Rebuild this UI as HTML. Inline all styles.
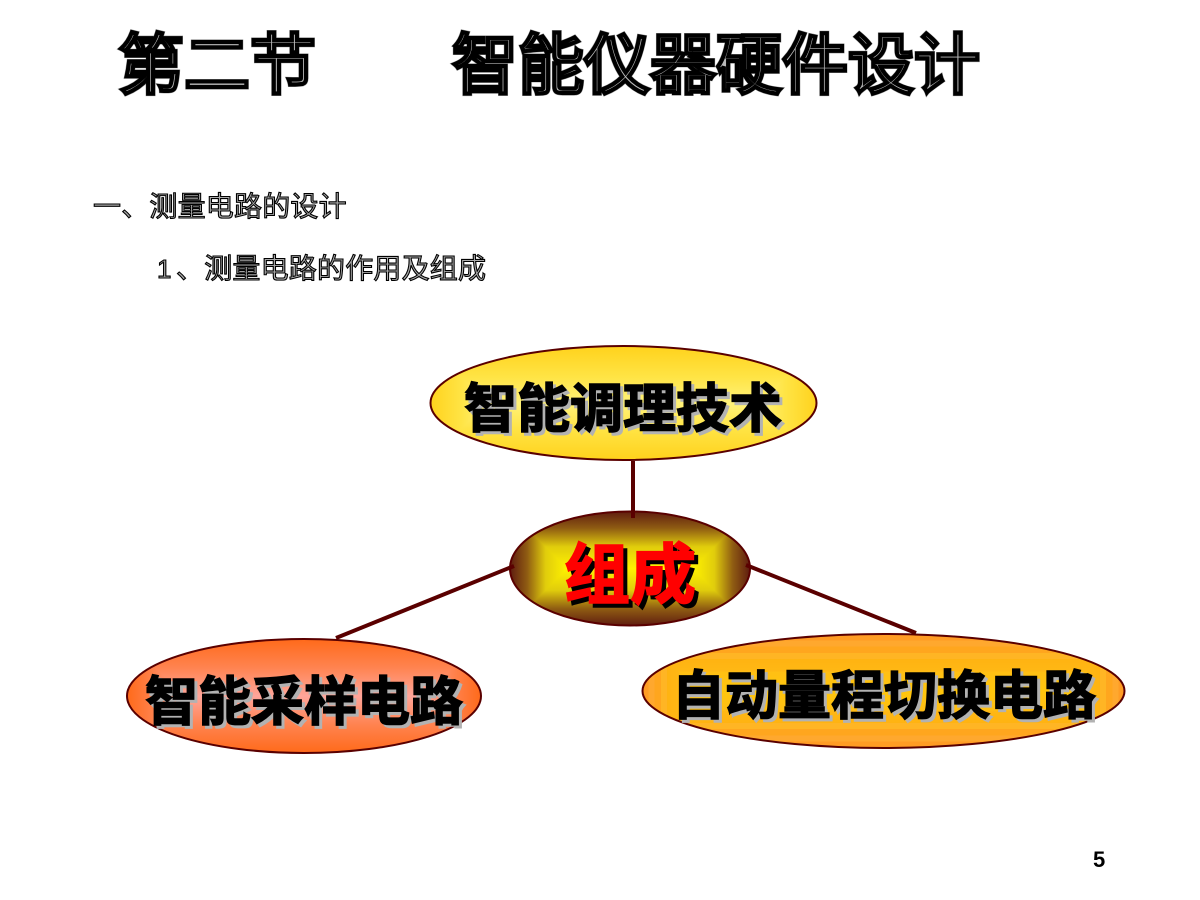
<!DOCTYPE html>
<html><head><meta charset="utf-8"><style>
html,body{margin:0;padding:0;background:#fff;width:1200px;height:900px;overflow:hidden}
svg{display:block}
text{font-family:"Liberation Sans","Noto Sans CJK SC",sans-serif}
.t0{font-size:66px;font-weight:400;stroke:#999;stroke-width:5px;fill:#999}
.t1{font-size:66px;font-weight:400;stroke:#000;stroke-width:4.2px;fill:#bbb;stroke-linejoin:miter}
.s1{font-size:28px;stroke:#000;stroke-width:1.1px;fill:#aaa;letter-spacing:.2px}
.l{font-size:53px;font-weight:700;stroke-width:1.5px}
</style></head><body>
<svg width="1200" height="900" viewBox="0 0 1200 900" xmlns="http://www.w3.org/2000/svg">
<defs>
<linearGradient id="ah" gradientUnits="userSpaceOnUse" x1="430" y1="0" x2="623.5" y2="0" spreadMethod="reflect"><stop offset="0" stop-color="#ffd21c"/><stop offset=".163" stop-color="#ffe445"/><stop offset=".295" stop-color="#fff27a"/></linearGradient>
<linearGradient id="av" gradientUnits="userSpaceOnUse" x1="0" y1="346" x2="0" y2="403" spreadMethod="reflect"><stop offset="0" stop-color="#ffd21c"/><stop offset=".55" stop-color="#ffe445"/><stop offset="1" stop-color="#fff27a"/></linearGradient>
<linearGradient id="bh" gradientUnits="userSpaceOnUse" x1="510" y1="0" x2="630" y2="0" spreadMethod="reflect"><stop offset="0" stop-color="#5e1c10"/><stop offset=".1425" stop-color="#8f5c12"/><stop offset=".295" stop-color="#e0cc0c"/><stop offset=".475" stop-color="#fff200"/></linearGradient>
<linearGradient id="bv" gradientUnits="userSpaceOnUse" x1="0" y1="511" x2="0" y2="568.5" spreadMethod="reflect"><stop offset="0" stop-color="#5e1c10"/><stop offset=".3" stop-color="#8f5c12"/><stop offset=".62" stop-color="#e0cc0c"/><stop offset="1" stop-color="#fff200"/></linearGradient>
<linearGradient id="ch" gradientUnits="userSpaceOnUse" x1="127" y1="0" x2="304" y2="0" spreadMethod="reflect"><stop offset="0" stop-color="#ff6a1a"/><stop offset=".161" stop-color="#ff8350"/><stop offset=".322" stop-color="#ffa59a"/></linearGradient>
<linearGradient id="cv" gradientUnits="userSpaceOnUse" x1="0" y1="639" x2="0" y2="696" spreadMethod="reflect"><stop offset="0" stop-color="#ff6a1a"/><stop offset=".5" stop-color="#ff8350"/><stop offset="1" stop-color="#ffa59a"/></linearGradient>
<linearGradient id="dv" gradientUnits="userSpaceOnUse" x1="0" y1="634" x2="0" y2="691" spreadMethod="reflect">
<stop offset="0" stop-color="#ff9c24"/><stop offset=".11" stop-color="#ff9c24"/><stop offset=".11" stop-color="#ffa82e"/><stop offset=".22" stop-color="#ffa82e"/><stop offset=".22" stop-color="#ffa61e"/><stop offset=".33" stop-color="#ffa61e"/><stop offset=".33" stop-color="#ffb524"/><stop offset=".44" stop-color="#ffb524"/><stop offset=".44" stop-color="#ffb312"/><stop offset=".66" stop-color="#ffb814"/><stop offset=".66" stop-color="#ffbf14"/><stop offset="1" stop-color="#ffc60c"/></linearGradient>
<linearGradient id="dh" gradientUnits="userSpaceOnUse" x1="642" y1="0" x2="883.5" y2="0" spreadMethod="reflect">
<stop offset="0" stop-color="#ff9c24"/><stop offset=".026" stop-color="#ff9c24"/><stop offset=".026" stop-color="#ffa82e"/><stop offset=".052" stop-color="#ffa82e"/><stop offset=".052" stop-color="#ffa61e"/><stop offset=".078" stop-color="#ffa61e"/><stop offset=".078" stop-color="#ffb524"/><stop offset=".104" stop-color="#ffb524"/><stop offset=".104" stop-color="#ffb312"/><stop offset=".156" stop-color="#ffb814"/><stop offset=".156" stop-color="#ffbf14"/><stop offset=".236" stop-color="#ffc60c"/></linearGradient>
<clipPath id="ca"><ellipse cx="623.5" cy="403" rx="193" ry="57"/></clipPath>
<clipPath id="cb"><ellipse cx="630" cy="568.5" rx="120" ry="57"/></clipPath>
<clipPath id="cc"><ellipse cx="304" cy="696" rx="177" ry="57"/></clipPath>
<clipPath id="cd"><ellipse cx="883.5" cy="691" rx="241" ry="57"/></clipPath>
</defs>

<text class="t0" x="118" y="88">第二节</text>
<text class="t1" x="118" y="88">第二节</text>
<text class="t0" x="452" y="88" textLength="528">智能仪器硬件设计</text>
<text class="t1" x="452" y="88" textLength="528">智能仪器硬件设计</text>

<text class="s1" x="93" y="216">一、测量电路的设计</text>
<text class="s1" x="157" y="278" style="font-size:26px">1</text>
<text class="s1" x="176" y="278">、测量电路的作用及组成</text>

<g clip-path="url(#ca)">
<rect x="430" y="346" width="387" height="114" fill="url(#av)"/>
<path d="M430 346L487 403L760 403L817 346V460L760 403L487 403L430 460Z" fill="url(#ah)"/>
</g>
<ellipse cx="623.5" cy="403" rx="193" ry="57" fill="none" stroke="#5a0000" stroke-width="2"/>

<g clip-path="url(#cb)">
<rect x="510" y="511" width="240" height="115" fill="url(#bv)"/>
<path d="M510 511L567 568.5L693 568.5L750 511V626L693 568.5L567 568.5L510 626Z" fill="url(#bh)"/>
</g>
<ellipse cx="630" cy="568.5" rx="120" ry="57" fill="none" stroke="#5a0000" stroke-width="2"/>

<g clip-path="url(#cc)">
<rect x="127" y="639" width="354" height="114" fill="url(#cv)"/>
<path d="M127 639L184 696L424 696L481 639V753L424 696L184 696L127 753Z" fill="url(#ch)"/>
</g>
<ellipse cx="304" cy="696" rx="177" ry="57" fill="none" stroke="#5a0000" stroke-width="2"/>

<g clip-path="url(#cd)">
<rect x="642" y="634" width="483" height="114" fill="url(#dv)"/>
<path d="M642 634L699 691L1068 691L1125 634V748L1068 691L699 691L642 748Z" fill="url(#dh)"/>
</g>
<ellipse cx="883.5" cy="691" rx="241" ry="57" fill="none" stroke="#5a0000" stroke-width="2"/>

<g stroke="#5a0000" stroke-width="4" fill="none">
<line x1="633" y1="461" x2="633" y2="518"/>
<line x1="514" y1="566" x2="336" y2="638"/>
<line x1="746" y1="565" x2="916" y2="633"/>
</g>

<text class="l" x="467" y="430" fill="#b2b2b2" stroke="#b2b2b2">智能调理技术</text>
<text class="l" x="464" y="427" fill="#000" stroke="#000">智能调理技术</text>
<text class="l" x="148" y="723" fill="#b2b2b2" stroke="#b2b2b2">智能采样电路</text>
<text class="l" x="145" y="720" fill="#000" stroke="#000">智能采样电路</text>
<text class="l" x="675" y="717" fill="#b2b2b2" stroke="#b2b2b2">自动量程切换电路</text>
<text class="l" x="672" y="714" fill="#000" stroke="#000">自动量程切换电路</text>
<text x="568" y="602" fill="#000" stroke="#000" stroke-width="1.6" style="font-size:66px;font-weight:700">组成</text>
<text x="564" y="598" fill="#f00" stroke="#f00" stroke-width="1.6" style="font-size:66px;font-weight:700">组成</text>

<text x="1093" y="867" fill="#000" style="font-size:22px;font-weight:700">5</text>
</svg>
</body></html>
